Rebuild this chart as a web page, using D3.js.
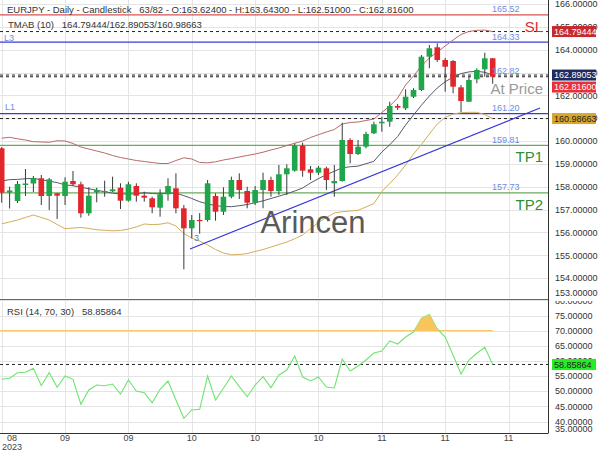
<!DOCTYPE html>
<html><head><meta charset="utf-8">
<script src="https://cdn.jsdelivr.net/npm/d3@7/dist/d3.min.js"></script>
<style>body{margin:0;background:#fff}svg{display:block;font-family:"Liberation Sans",Arial,sans-serif}</style>
</head><body><svg id="c" width="600" height="450"></svg>
<script>
const opens=[159.685,157.751,157.379,158.079,158.144,158.372,157.597,157.716,157.597,158.254,158.109,156.840,157.759,157.794,157.803,157.961,157.392,158.035,157.611,157.497,157.085,157.672,157.934,157.059,156.184,156.55,156.547,157.597,156.910,157.567,158.298,157.816,157.304,157.860,158.298,157.816,158.547,158.705,159.799,158.766,158.617,158.810,158.153,158.254,160.048,159.435,159.755,160.341,160.779,160.849,161.536,161.435,161.943,162.236,163.694,164.105,163.549,163.505,162.354,161.724,162.704,163.142,163.624];
const highs=[159.742,158.004,158.254,158.779,158.473,158.516,158.385,157.729,158.416,158.691,158.223,157.978,157.961,158.267,158.442,158.153,158.223,158.153,157.786,157.567,157.891,158.372,158.591,157.204,156.766,156.85,158.298,157.716,157.978,158.442,158.591,158.004,158.035,158.617,158.442,158.954,158.985,159.904,159.930,158.910,158.910,158.880,158.954,160.805,160.123,160.048,160.411,160.849,161.068,161.724,161.624,162.267,162.311,163.768,164.206,164.280,163.637,163.549,162.455,162.805,163.186,163.869,163.643];
const lows=[157.304,157.050,157.291,157.597,157.772,157.204,156.985,156.591,157.204,158.035,156.648,156.735,157.322,157.567,157.772,157.029,157.348,157.348,157.348,156.840,156.692,157.392,156.840,154.390,155.746,155.95,156.473,156.516,156.766,157.497,157.466,157.059,157.204,157.059,157.567,157.641,157.641,158.661,158.442,158.298,158.516,157.860,157.567,158.223,159.028,159.392,159.685,160.311,160.411,160.630,161.361,161.361,161.886,162.192,163.186,163.462,162.162,162.092,161.273,161.711,162.529,162.818,162.510];
const closes=[157.742,157.838,158.123,158.144,158.385,157.597,158.328,157.611,158.223,158.109,156.840,157.611,157.860,157.816,157.891,157.392,158.109,157.611,157.523,157.103,157.672,158.035,157.059,156.184,156.547,156.50,158.153,156.910,157.567,158.298,157.860,157.304,157.860,158.298,157.816,158.547,158.810,159.799,158.705,158.617,158.836,158.298,158.254,160.048,159.435,159.755,160.311,160.735,160.849,161.536,161.462,161.943,162.236,163.694,164.061,163.549,163.256,162.381,161.755,162.674,163.111,163.624,162.816];
const tmabUpper=[160.127,160.166,160.101,160.048,159.974,159.961,159.947,160.018,160.004,159.895,159.742,159.654,159.567,159.479,159.370,159.282,159.217,159.151,159.107,159.063,159.020,159.020,159.151,159.269,159.217,159.063,159.050,159.094,159.173,159.234,159.304,159.370,159.435,159.514,159.611,159.698,159.807,159.904,160.004,160.158,160.280,160.398,160.508,160.748,160.814,160.836,160.902,160.967,161.252,161.536,161.886,162.455,162.849,163.287,163.637,163.899,164.162,164.424,164.665,164.797,164.849,164.858,164.79444];
const tmabMid=[158.254,158.313,158.324,158.353,158.370,158.309,158.247,158.184,158.085,158.046,157.981,157.915,157.845,157.788,157.722,157.685,157.685,157.696,157.740,157.705,157.692,157.723,157.718,157.613,157.488,157.346,157.252,157.175,157.138,157.129,157.171,157.224,157.302,157.385,157.488,157.587,157.696,157.814,157.948,158.167,158.359,158.528,158.681,158.829,158.878,158.904,159.009,159.118,159.523,159.840,160.201,160.705,161.142,161.569,161.974,162.324,162.598,162.805,162.954,163.029,163.055,163.011,162.89053];
const tmabLower=[156.381,156.460,156.547,156.657,156.766,156.657,156.547,156.350,156.166,156.197,156.219,156.175,156.123,156.096,156.074,156.088,156.153,156.241,156.372,156.346,156.363,156.425,156.284,155.956,155.759,155.628,155.453,155.256,155.103,155.024,155.037,155.077,155.169,155.256,155.365,155.475,155.584,155.724,155.891,156.175,156.438,156.657,156.853,156.910,156.941,156.972,157.116,157.269,157.794,158.144,158.516,158.954,159.435,159.851,160.311,160.748,161.033,161.186,161.243,161.260,161.260,161.164,160.98663];
const rsi=[53.96,54.29,56.14,56.27,57.59,51.85,56.14,51.32,55.05,53.96,45.71,50.43,52.08,51.85,52.41,49.11,53.73,50.10,49.54,46.24,50.66,53.40,47.13,41.09,43.83,44.06,55.05,47.13,50.99,55.05,51.52,48.22,52.08,54.82,51.19,55.38,57.03,61.65,54.72,53.40,54.72,51.42,51.09,60.66,56.70,58.35,60.33,62.64,63.30,66.60,65.61,67.92,69.57,74.03,75.35,70.56,67.92,61.88,55.71,60.33,62.54,64.52,58.85864];
const priceTicks=[153,154,155,156,157,158,159,160,161,162,163,164,165,166];
const rsiTicks=[35,40,45,50,55,60,65,70,75,80];
const dateTickIdx=[0,8,16,24,32,40,48,56,64];
const dateTickLabels=["08","09","09","10","10","10","11","11","11"];
const levelNames=["SL","L3","L1","TP1","TP2"];
const levelValues=[165.52,164.33,161.20,159.81,157.73];
const trendIdx=[23.78,67.98];
const trendVal=[155.278,161.449];
const lastClose=162.816;
const rsiLast=58.85864;
const symbol="EURJPY - Daily - Candlestick   63/82 - O:163.62400 - H:163.64300 - L:162.51000 - C:162.81600";

const svg=d3.select("#c");
const R=548, mainTop=0, mainBot=298, rsiTop=300, rsiBot=433;
const x=d3.scaleLinear().domain([0,62]).range([1.7,492.7]);
const y=d3.scaleLinear().domain([160,166]).range([141.1,141.1-6*22.85]);
const yr=d3.scaleLinear().domain([70,75]).range([330.7,330.7-5*3.03]);
const defs=svg.append("defs");
defs.append("clipPath").attr("id","cm").append("rect").attr("x",0).attr("y",mainTop).attr("width",R).attr("height",mainBot-mainTop);
defs.append("clipPath").attr("id","cr").append("rect").attr("x",0).attr("y",rsiTop).attr("width",R).attr("height",rsiBot-rsiTop);
defs.append("clipPath").attr("id","cf").append("rect").attr("x",0).attr("y",rsiTop).attr("width",R).attr("height",yr(70)-rsiTop);
defs.append("clipPath").attr("id","cax").append("rect").attr("x",R).attr("y",rsiTop+1).attr("width",60).attr("height",200);

const grid="#e4e4e4";
const gm=svg.append("g").attr("clip-path","url(#cm)");
const gr=svg.append("g").attr("clip-path","url(#cr)");
gm.selectAll(".hg").data(priceTicks).join("line").attr("x1",0).attr("x2",R).attr("y1",d=>Math.round(y(d))+0.5).attr("y2",d=>Math.round(y(d))+0.5).attr("stroke",grid);
gr.selectAll(".hg").data(rsiTicks).join("line").attr("x1",0).attr("x2",R).attr("y1",d=>Math.round(yr(d))+0.5).attr("y2",d=>Math.round(yr(d))+0.5).attr("stroke",grid);
[gm,gr].forEach(g=>g.selectAll(".vg").data(dateTickIdx).join("line").attr("x1",d=>Math.round(x(d))+0.5).attr("x2",d=>Math.round(x(d))+0.5).attr("y1",0).attr("y2",rsiBot).attr("stroke",grid));

const levelColor={SL:"#d9534f",L3:"#3b3bd0",L1:"#3b3bd0",TP1:"#6aaa5a",TP2:"#6aaa5a"};
levelValues.forEach((v,i)=>{
  gm.append("line").attr("x1",0).attr("x2",R).attr("y1",y(v)).attr("y2",y(v)).attr("stroke",levelColor[levelNames[i]]).attr("stroke-width",1.2);
});
[tmabUpper[62],tmabMid[62],lastClose,tmabLower[62]].forEach(v=>{
  gm.append("line").attr("x1",0).attr("x2",R).attr("y1",y(v)).attr("y2",y(v)).attr("stroke","#222").attr("stroke-dasharray","3,3").attr("stroke-width",1);
});
const line=arr=>d3.line().x((d,i)=>x(i)).y(d=>y(d))(arr);
gm.append("path").attr("d",line(tmabUpper)).attr("fill","none").attr("stroke","#b86a6a").attr("stroke-width",1);
gm.append("path").attr("d",line(tmabMid)).attr("fill","none").attr("stroke","#555a6a").attr("stroke-width",1);
gm.append("path").attr("d",line(tmabLower)).attr("fill","none").attr("stroke","#d2ad5e").attr("stroke-width",1);
gm.append("line").attr("x1",x(trendIdx[0])).attr("y1",y(trendVal[0])).attr("x2",x(trendIdx[1])).attr("y2",y(trendVal[1])).attr("stroke","#3535d8").attr("stroke-width",1.2);
gm.append("text").attr("x",x(trendIdx[0])+4).attr("y",y(trendVal[0])-8).text("3").attr("fill","#5a7ad8").attr("font-size",9);

gm.append("text").attr("x",313).attr("y",233).attr("text-anchor","middle").attr("font-size",31).attr("fill","#5a5a5a").text("Arincen");

const idx=d3.range(opens.length);
const cg=gm.append("g");
cg.selectAll(".w").data(idx).join("line").attr("x1",i=>x(i)).attr("x2",i=>x(i)).attr("y1",i=>y(highs[i])).attr("y2",i=>y(lows[i])).attr("stroke","#3a3a3a").attr("stroke-width",1);
cg.selectAll(".b").data(idx).join("rect").attr("x",i=>x(i)-2.8).attr("width",5.6)
  .attr("y",i=>y(Math.max(opens[i],closes[i]))).attr("height",i=>Math.max(1.2,Math.abs(y(opens[i])-y(closes[i]))))
  .attr("fill",i=>closes[i]>=opens[i]?"#1fa64a":"#e3262b");

const lblX=492;
levelValues.forEach((v,i)=>{
  gm.append("text").attr("x",lblX).attr("y",y(v)-2.5).attr("font-size",9).attr("fill","#6b8ee0").text(v.toFixed(2));
});
gm.append("text").attr("x",lblX).attr("y",y(lastClose)-2.5).attr("font-size",9).attr("fill","#6b8ee0").text(lastClose.toFixed(2));
gm.append("text").attr("x",4).attr("y",y(levelValues[1])-1).attr("font-size",9).attr("fill","#6b8ee0").text("L3");
gm.append("text").attr("x",5).attr("y",y(levelValues[2])-4).attr("font-size",9).attr("fill","#6b8ee0").text("L1");
const bigLbl={SL:"#d93030",TP1:"#2f8f2f",TP2:"#2f8f2f"};
levelValues.forEach((v,i)=>{const n=levelNames[i]; if(!bigLbl[n])return;
  gm.append("text").attr("x",543).attr("y",y(v)+17).attr("text-anchor","end").attr("font-size",15).attr("fill",bigLbl[n]).text(n);
});
gm.append("text").attr("x",543).attr("y",y(lastClose)+17).attr("text-anchor","end").attr("font-size",15).attr("fill","#9a9a9a").text("At Price");

svg.append("text").attr("x",7).attr("y",13).attr("font-size",9.5).attr("fill","#333").style("white-space","pre").text(symbol);
svg.append("text").attr("x",8).attr("y",28).attr("font-size",9.5).attr("fill","#333").style("white-space","pre")
  .text(`TMAB (10)   ${tmabUpper[62].toFixed(5)}/${tmabMid[62].toFixed(5)}/${tmabLower[62].toFixed(5)}`);

gr.append("line").attr("x1",0).attr("x2",x(62)).attr("y1",yr(70)).attr("y2",yr(70)).attr("stroke","#f7c76e").attr("stroke-width",1.2);
gr.append("line").attr("x1",0).attr("x2",R).attr("y1",yr(rsiLast)).attr("y2",yr(rsiLast)).attr("stroke","#222").attr("stroke-dasharray","3,3");
svg.append("path").attr("clip-path","url(#cf)").attr("d",d3.area().x((d,i)=>x(i)).y0(yr(70)).y1(d=>yr(d))(rsi)).attr("fill","#f9c45c");
gr.append("path").attr("d",d3.line().x((d,i)=>x(i)).y(d=>yr(d))(rsi)).attr("fill","none").attr("stroke","#6fe46f").attr("stroke-width",1.1);
svg.append("text").attr("x",7).attr("y",315).attr("font-size",9.5).attr("fill","#333").style("white-space","pre").text(`RSI (14, 70, 30)   ${rsiLast.toFixed(5)}`);

svg.append("line").attr("x1",0).attr("x2",R).attr("y1",299.5).attr("y2",299.5).attr("stroke","#666");
svg.append("line").attr("x1",0).attr("x2",R).attr("y1",rsiBot+0.5).attr("y2",rsiBot+0.5).attr("stroke","#333");
svg.append("line").attr("x1",R+0.5).attr("x2",R+0.5).attr("y1",0).attr("y2",rsiBot+0.5).attr("stroke","#333");

priceTicks.forEach(v=>{
  const yy=Math.min(y(v),mainBot-5.5);
  svg.append("text").attr("x",555).attr("y",yy).attr("dy","0.35em").attr("font-size",9).attr("fill","#333").text(v.toFixed(5));
});
const rax=svg.append("g").attr("clip-path","url(#cax)");
rsiTicks.forEach(v=>{
  const yy=Math.min(yr(v),rsiBot-4);
  rax.append("text").attr("x",555).attr("y",yy).attr("dy","0.35em").attr("font-size",9).attr("fill","#333").text(v.toFixed(5));
});
function tag(yc,txt,bg,fg){
  svg.append("rect").attr("x",552).attr("y",yc-5.5).attr("width",44).attr("height",11).attr("fill",bg);
  svg.append("text").attr("x",554).attr("y",yc).attr("dy","0.35em").attr("font-size",9).attr("fill",fg).text(txt);
}
tag(y(tmabUpper[62]),tmabUpper[62].toFixed(5),"#c8282e","#fff");
tag(y(tmabMid[62]),tmabMid[62].toFixed(5),"#1f2a5e","#fff");
tag(y(tmabMid[62])+12,lastClose.toFixed(5),"#e8303a","#fff");
tag(y(tmabLower[62]),tmabLower[62].toFixed(5),"#d7a62b","#222");
tag(yr(rsiLast),rsiLast.toFixed(5),"#22ee22","#222");

dateTickIdx.forEach((d,i)=>{
  const xx=Math.max(x(d),12);
  svg.append("text").attr("x",xx).attr("y",440.5).attr("text-anchor","middle").attr("font-size",9).attr("fill","#444").text(dateTickLabels[i]);
});
svg.append("text").attr("x",12).attr("y",449.5).attr("text-anchor","middle").attr("font-size",9).attr("fill","#444").text("2023");
</script></body></html>
